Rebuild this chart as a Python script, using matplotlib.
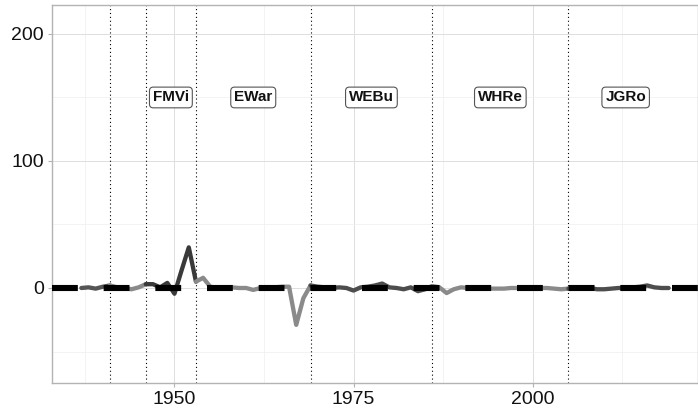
import numpy as np
import matplotlib
matplotlib.use("Agg")
import matplotlib.pyplot as plt

plt.rcParams['font.family'] = ['Liberation Sans', 'DejaVu Sans']
plt.rcParams['lines.scale_dashes'] = False

# yearly values
years = list(range(1937, 2020))
values = [0, 0.5, -0.5, 1, 2, 0.5, 0, -1, 0.5, 3,
          3, 0.5, 4, -4.5, 14, 32, 5, 8, 1, 0,
          0, 0.5, 0, 0, -1.5, 0, 0, 0.5, 1, 1,
          -29, -8, 2, 1, 0.5, 0, 0.5, 0, -2, 0.5,
          1, 2, 3.5, 0.5, 0, -1, 0.5, -2.5, -1, 1.5,
          0.5, -4, -1, 0.5, 0, 0, 0, -0.5, -0.5, -0.5,
          0, 0, 0, 0, 0, 0, -0.5, -1, -0.5, 0,
          0.5, 0, -1, -1, -0.5, 0, 0, 0.5, 1, 2,
          0.5, 0, 0]

# period boundaries (dotted lines) and labels
breaks = [1941, 1946, 1953, 1969, 1986, 2005]
period_edges = [1937, 1941, 1946, 1953, 1969, 1986, 2005, 2019]
period_colors = ["#555555", "#8a8a8a", "#3a3a3a", "#8a8a8a", "#4d4d4d", "#8a8a8a", "#4d4d4d"]
labels = ["FMVi", "EWar", "WEBu", "WHRe", "JGRo"]
label_x = [1949.5, 1961, 1977.5, 1995.5, 2013]
label_y = 150

years = np.array(years)
values = np.array(values)

fig = plt.figure(figsize=(6.98, 4.13), dpi=100)
ax = fig.add_axes([52/698, 30/413, 646/698, 378/413])

for i in range(len(period_edges) - 1):
    m = (years >= period_edges[i]) & (years <= period_edges[i+1])
    ax.plot(years[m], values[m], color=period_colors[i], lw=3.1,
            solid_joinstyle='round', solid_capstyle='round', zorder=3)

ax.axhline(0, color="black", lw=4.4, linestyle=(0, (18.6, 18.6)),
           dash_capstyle='butt', zorder=4)

for b in breaks:
    ax.axvline(b, color="black", lw=0.8, linestyle=(0, (0.8, 2.0)), zorder=2)

for lab, lx in zip(labels, label_x):
    ax.text(lx, label_y, lab, ha="center", va="center", fontsize=11,
            fontweight="bold", color="#111111", zorder=5,
            bbox=dict(boxstyle="round,pad=0.22,rounding_size=0.25",
                      fc="white", ec="#555555", lw=0.8))

ax.set_xlim(1932.9, 2023.1)
ax.set_ylim(-74.8, 222.8)
ax.set_xticks([1950, 1975, 2000])
ax.set_xticks([1937.5, 1962.5, 1987.5, 2012.5], minor=True)
ax.set_yticks([0, 100, 200])
ax.set_yticks([-50, 50, 150], minor=True)

ax.grid(which="major", color="#dedede", lw=0.7, zorder=0)
ax.grid(which="minor", color="#efefef", lw=0.5, zorder=0)
ax.set_axisbelow(True)

for s in ax.spines.values():
    s.set_color("#b3b3b3")
    s.set_linewidth(1.0)

ax.tick_params(which="major", length=3, color="#b3b3b3", labelsize=14,
               labelcolor="#111111", pad=3)
ax.tick_params(which="minor", length=0)

fig.savefig("out.png", dpi=100)
